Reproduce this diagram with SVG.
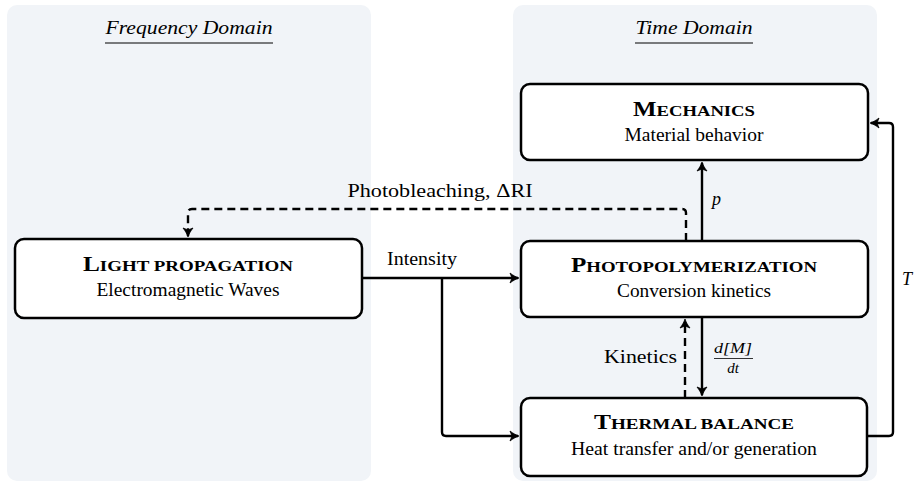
<svg xmlns="http://www.w3.org/2000/svg" width="915" height="485" viewBox="0 0 915 485">
<style>
.panel{fill:#f1f4f8;stroke:none}
.box{fill:#fff;stroke:#000;stroke-width:2.5}
.t{font-family:"Liberation Serif","Times New Roman","DejaVu Serif",serif;fill:#000}
.ttl{font-weight:bold;text-anchor:middle}
.big{font-size:20px}
.sc{font-size:15px}
.sub{font-size:18px;text-anchor:middle}
.hd{font-size:19px;font-style:italic;text-anchor:middle}
.lbl{font-size:18px}
.m{font-style:italic}
.ln{fill:none;stroke:#000;stroke-width:2.4;stroke-linejoin:round}
.dash{stroke-dasharray:8 5}
</style>
<defs>
<marker id="ah" markerUnits="userSpaceOnUse" viewBox="-10 -7 12 14" refX="0" refY="0" markerWidth="12" markerHeight="14" orient="auto" overflow="visible">
<path d="M 1 0 C -2 -1 -5 -2.6 -8 -5 L -6 0 L -8 5 C -5 2.6 -2 1 1 0 Z" fill="#000" stroke="#000" stroke-width="0.8" stroke-linejoin="round"/>
</marker>
</defs>
<g id="panels">
<rect class="panel" x="7" y="5" width="364" height="476" rx="10"/>
<rect class="panel" x="513" y="5" width="364" height="476" rx="10"/>
<text class="t hd" x="189" y="34" textLength="167" lengthAdjust="spacingAndGlyphs">Frequency Domain</text>
<line x1="105" y1="43" x2="273" y2="43" stroke="#000" stroke-width="1"/>
<text class="t hd" x="694" y="34" textLength="117" lengthAdjust="spacingAndGlyphs">Time Domain</text>
<line x1="635" y1="43" x2="753" y2="43" stroke="#000" stroke-width="1"/>
</g>
<g id="connectors">
<path class="ln dash" d="M 686 241 V 213 Q 686 209 682 209 H 192 Q 188 209 188 213 V 236" marker-end="url(#ah)"/>
<path class="ln" d="M 362 278 H 518" marker-end="url(#ah)"/>
<path class="ln" d="M 442 278 V 432 Q 442 436 446 436 H 518" marker-end="url(#ah)"/>
<path class="ln" d="M 702 241 V 163" marker-end="url(#ah)"/>
<path class="ln" d="M 702 317 V 395" marker-end="url(#ah)"/>
<path class="ln dash" d="M 685 398 V 320" marker-end="url(#ah)"/>
<path class="ln" d="M 867 436 H 889 Q 893 436 893 432 V 127 Q 893 123 889 123 H 871" marker-end="url(#ah)"/>
<text class="t lbl" x="422" y="265" text-anchor="middle" textLength="70" lengthAdjust="spacingAndGlyphs">Intensity</text>
<text class="t lbl" x="440" y="197" text-anchor="middle" textLength="185" lengthAdjust="spacingAndGlyphs">Photobleaching, ΔRI</text>
<text class="t lbl m" x="712" y="205">p</text>
<text class="t lbl m" x="902" y="285">T</text>
<text class="t lbl" x="677" y="363" text-anchor="end" textLength="73" lengthAdjust="spacingAndGlyphs">Kinetics</text>
<text class="t m" x="733" y="353" font-size="14.5" text-anchor="middle" textLength="38" lengthAdjust="spacingAndGlyphs">d[M]</text>
<line x1="714" y1="358.5" x2="753" y2="358.5" stroke="#000" stroke-width="0.8"/>
<text class="t m" x="733" y="373" font-size="15" text-anchor="middle">dt</text>
</g>
<g id="mechanics">
<rect class="box" x="521" y="84" width="347" height="76" rx="9"/>
<text class="t ttl" x="694" y="116" textLength="122" lengthAdjust="spacingAndGlyphs"><tspan class="big">M</tspan><tspan class="sc">ECHANICS</tspan></text>
<text class="t sub" x="694" y="141" textLength="139" lengthAdjust="spacingAndGlyphs">Material behavior</text>
</g>
<g id="light">
<rect class="box" x="15" y="239" width="347" height="79" rx="9"/>
<text class="t ttl" x="188" y="271" textLength="210" lengthAdjust="spacingAndGlyphs"><tspan class="big">L</tspan><tspan class="sc">IGHT PROPAGATION</tspan></text>
<text class="t sub" x="188" y="296" textLength="183" lengthAdjust="spacingAndGlyphs">Electromagnetic Waves</text>
</g>
<g id="photopolymerization">
<rect class="box" x="521" y="241" width="347" height="76" rx="9"/>
<text class="t ttl" x="694" y="272" textLength="246" lengthAdjust="spacingAndGlyphs"><tspan class="big">P</tspan><tspan class="sc">HOTOPOLYMERIZATION</tspan></text>
<text class="t sub" x="694" y="297" textLength="154" lengthAdjust="spacingAndGlyphs">Conversion kinetics</text>
</g>
<g id="thermal">
<rect class="box" x="521" y="398" width="346" height="78" rx="9"/>
<text class="t ttl" x="694" y="429" textLength="200" lengthAdjust="spacingAndGlyphs"><tspan class="big">T</tspan><tspan class="sc">HERMAL BALANCE</tspan></text>
<text class="t sub" x="694" y="455" textLength="246" lengthAdjust="spacingAndGlyphs">Heat transfer and/or generation</text>
</g>
</svg>
